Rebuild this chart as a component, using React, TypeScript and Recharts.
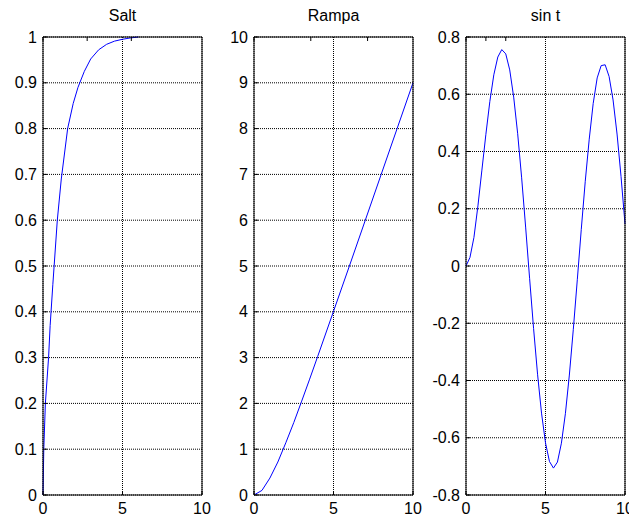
import React from "react";
import { LineChart, Line, XAxis, YAxis, CartesianGrid } from "recharts";

// ---- data ----
const titles = ["Salt", "Rampa", "sin t"];
const xTicks = [0, 5, 10];

const saltT = [0, 0.05, 0.15, 0.35, 0.45, 0.62, 0.9, 1.15, 1.55, 1.9, 2.2, 2.6, 3.0, 3.5, 4.0, 4.5, 5.0, 5.5, 6.0];
const saltY = [0, 0.1, 0.2, 0.3, 0.37, 0.46, 0.6, 0.69, 0.8, 0.855, 0.89, 0.925, 0.952, 0.972, 0.984, 0.991, 0.995, 0.998, 1.0];
const saltTicks = [0, 0.1, 0.2, 0.3, 0.4, 0.5, 0.6, 0.7, 0.8, 0.9, 1];

const rampT = [0, 0.5, 1, 1.5, 2, 2.5, 3, 3.5, 4, 5, 6, 7, 8, 9, 10];
const rampY = [0, 0.1, 0.37, 0.72, 1.14, 1.58, 2.05, 2.53, 3.02, 4.01, 5.0, 6.0, 7.0, 8.0, 9.0];
const rampTicks = [0, 1, 2, 3, 4, 5, 6, 7, 8, 9, 10];

const sinT = [0, 0.25, 0.5, 0.75, 1, 1.25, 1.5, 1.75, 2, 2.25, 2.5, 2.75, 3, 3.25, 3.5, 3.75, 4, 4.25, 4.5, 4.75, 5, 5.25, 5.5, 5.75, 6, 6.25, 6.5, 6.75, 7, 7.25, 7.5, 7.75, 8, 8.25, 8.5, 8.75, 9, 9.25, 9.5, 9.75, 10];
const sinY = [0, 0.03, 0.1, 0.21, 0.335, 0.46, 0.575, 0.668, 0.73, 0.756, 0.741, 0.685, 0.59, 0.462, 0.308, 0.136, -0.043, -0.218, -0.378, -0.514, -0.618, -0.683, -0.706, -0.685, -0.619, -0.516, -0.381, -0.221, -0.048, 0.128, 0.296, 0.443, 0.568, 0.657, 0.7, 0.703, 0.662, 0.58, 0.461, 0.313, 0.147];
const sinTicks = [-0.8, -0.6, -0.4, -0.2, 0, 0.2, 0.4, 0.6, 0.8];

const FONT = "'Liberation Sans', Arial, sans-serif";
const tickStyle = { fill: "#000", fontSize: 16, fontFamily: FONT };

type PanelProps = {
  left: number;
  width: number;
  yAxisWidth: number;
  marginRight: number;
  title: string;
  ts: number[];
  ys: number[];
  yTicks: number[];
};

function Panel({ left, width, yAxisWidth, marginRight, title, ts, ys, yTicks }: PanelProps) {
  const data = ts.map((t, i) => ({ t, y: ys[i] }));
  const yMin = yTicks[0];
  const yMax = yTicks[yTicks.length - 1];
  const plotLeft = yAxisWidth;
  const plotRight = width - marginRight - 1;
  return (
    <div style={{ position: "absolute", left, top: 0, width, height: 519 }}>
      <div
        style={{
          position: "absolute",
          left: plotLeft,
          width: plotRight - plotLeft,
          top: 7,
          height: 18,
          lineHeight: "18px",
          textAlign: "center",
          fontFamily: FONT,
          fontSize: 16,
          color: "#000",
        }}
      >
        {title}
      </div>
      <LineChart width={width} height={519} data={data} margin={{ top: 36, right: marginRight, bottom: 0, left: 0 }}>
        <CartesianGrid stroke="#000" strokeDasharray="1 1" strokeWidth={1} />
        <XAxis
          dataKey="t"
          type="number"
          domain={[0, 10]}
          ticks={xTicks}
          height={24}
          tickSize={-4}
          tickMargin={12}
          tickLine={{ stroke: "#000" }}
          axisLine={{ stroke: "#000" }}
          tick={tickStyle}
          interval={0}
        />
        <XAxis
          xAxisId="top"
          orientation="top"
          type="number"
          domain={[0, 10]}
          ticks={xTicks}
          height={1}
          tickSize={-4}
          tickLine={{ stroke: "#000" }}
          axisLine={{ stroke: "#000" }}
          tickFormatter={() => ""}
        />
        <YAxis
          type="number"
          domain={[yMin, yMax]}
          ticks={yTicks}
          width={yAxisWidth}
          tickSize={-4}
          tickMargin={10}
          tickLine={{ stroke: "#000" }}
          axisLine={{ stroke: "#000" }}
          tick={tickStyle}
          interval={0}
          tickFormatter={(v: number) => String(v)}
        />
        <YAxis
          yAxisId="right"
          orientation="right"
          type="number"
          domain={[yMin, yMax]}
          ticks={yTicks}
          width={1}
          tickSize={-4}
          tickLine={{ stroke: "#000" }}
          axisLine={{ stroke: "#000" }}
          tickFormatter={() => ""}
        />
        <Line
          dataKey="y"
          type="linear"
          stroke="#0000ff"
          strokeWidth={1}
          dot={false}
          isAnimationActive={false}
        />
      </LineChart>
    </div>
  );
}

export default function App() {
  return (
    <div style={{ position: "absolute", left: 0, top: 0, width: 629, height: 519, background: "#fff", overflow: "hidden" }}>
      <Panel left={0} width={212} yAxisWidth={43} marginRight={9} title={titles[0]} ts={saltT} ys={saltY} yTicks={saltTicks} />
      <Panel left={212} width={212} yAxisWidth={42} marginRight={10} title={titles[1]} ts={rampT} ys={rampY} yTicks={rampTicks} />
      <Panel left={424} width={205} yAxisWidth={42} marginRight={3} title={titles[2]} ts={sinT} ys={sinY} yTicks={sinTicks} />
    </div>
  );
}
